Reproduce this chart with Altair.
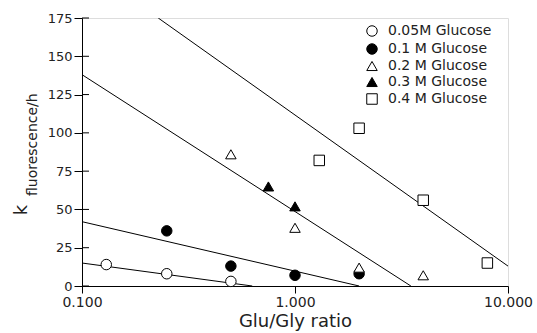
import altair as alt
import pandas as pd

# ---- data ----
series_names = ["0.05M Glucose", "0.1 M Glucose", "0.2 M Glucose", "0.3  M Glucose", "0.4  M Glucose"]
x_005 = [0.13, 0.25, 0.5]
y_005 = [14, 8, 3]
x_01 = [0.25, 0.5, 1.0, 2.0]
y_01 = [36, 13, 7, 8]
x_02 = [0.5, 1.0, 2.0, 4.0]
y_02 = [86, 38, 12, 7]
x_03 = [0.75, 1.0]
y_03 = [65, 52]
x_04 = [1.3, 2.0, 4.0, 8.0]
y_04 = [82, 103, 56, 15]

# fitted lines (end points)
line_ids = ["a", "a", "b", "b", "c", "c", "d", "d"]
line_x = [0.1, 0.63, 0.1, 2.0, 0.1, 3.5, 0.228, 10.0]
line_y = [15, 0, 42, 0, 138, 0, 175, 13]

y_ticks = [0, 25, 50, 75, 100, 125, 150, 175]
x_ticks = [0.1, 1.0, 10.0]

rows = []
for name, xs, ys in zip(series_names, [x_005, x_01, x_02, x_03, x_04], [y_005, y_01, y_02, y_03, y_04]):
    for a, b in zip(xs, ys):
        rows.append({"series": name, "x": a, "y": b})
pts = pd.DataFrame(rows)
lines = pd.DataFrame({"id": line_ids, "x": line_x, "y": line_y})
yt = pd.DataFrame({"y": y_ticks})

FONT = "DejaVu Sans"
TXT = "#222"
W, H = 426, 268

xscale = alt.Scale(type="log", domain=[0.1, 10])
yscale = alt.Scale(domain=[0, 175])

xaxis = alt.Axis(values=x_ticks, format=".3f", grid=False, title="Glu/Gly ratio",
                 labelFontSize=14, titleFontSize=18, titleFontWeight="normal",
                 labelFlush=False, tickSize=7, labelPadding=2, titlePadding=3,
                 domainColor="black", tickColor="black", labelColor=TXT, titleColor=TXT,
                 labelFont=FONT, titleFont=FONT, labelOverlap=False)
yaxis = alt.Axis(values=y_ticks, grid=False, title=None, labelFontSize=13,
                 tickSize=8, labelPadding=2, domainColor="black", tickColor="black",
                 labelColor=TXT, labelFont=FONT, labelOverlap=False)

xenc = alt.X("x:Q", scale=xscale, axis=xaxis)
yenc = alt.Y("y:Q", scale=yscale, axis=yaxis)

line_layer = alt.Chart(lines).mark_line(color="black", strokeWidth=1, clip=True).encode(
    x=xenc, y=yenc, detail="id:N")

legend = alt.Legend(orient="none", legendX=281, legendY=4, labelFontSize=14,
                    labelFont=FONT, labelColor=TXT, symbolSize=110,
                    symbolStrokeColor="black", symbolStrokeWidth=1,
                    rowPadding=2, labelOffset=9, padding=2)

point_layer = alt.Chart(pts).mark_point(filled=True, size=110, strokeWidth=1, opacity=1).encode(
    x=xenc,
    y=yenc,
    shape=alt.Shape("series:N", sort=series_names, title=None,
                    scale=alt.Scale(domain=series_names,
                                    range=["circle", "circle", "triangle-up", "triangle-up", "square"]),
                    legend=legend),
    fill=alt.Fill("series:N", sort=series_names, title=None, legend=legend,
                  scale=alt.Scale(domain=series_names,
                                  range=["white", "black", "white", "black", "white"])),
    stroke=alt.Stroke("series:N", sort=series_names, title=None, legend=legend,
                      scale=alt.Scale(domain=series_names,
                                      range=["black", "black", "black", "black", "black"])),
)

inner_ticks = alt.Chart(yt).mark_rule(color="black", strokeWidth=1).encode(
    y=yenc, x=alt.value(0), x2=alt.value(7))

k_text = alt.Chart(pd.DataFrame({"t": ["k"]})).mark_text(
    angle=270, fontSize=18, font=FONT, color=TXT, align="center", baseline="middle").encode(
    text="t:N", x=alt.value(-60), y=alt.value(192))
sub_text = alt.Chart(pd.DataFrame({"t": ["fluorescence/h"]})).mark_text(
    angle=270, fontSize=14, font=FONT, color=TXT, align="left", baseline="middle").encode(
    text="t:N", x=alt.value(-49), y=alt.value(178))

chart = alt.layer(line_layer, point_layer, inner_ticks, k_text, sub_text).properties(
    width=W, height=H,
    padding={"left": 82, "top": 18, "right": 29, "bottom": 47},
    autosize=alt.AutoSizeParams(type="none"),
).configure_view(stroke="black", strokeWidth=1).configure(background="white")

chart.save("out.html", embed_options={"renderer": "svg", "actions": False})
